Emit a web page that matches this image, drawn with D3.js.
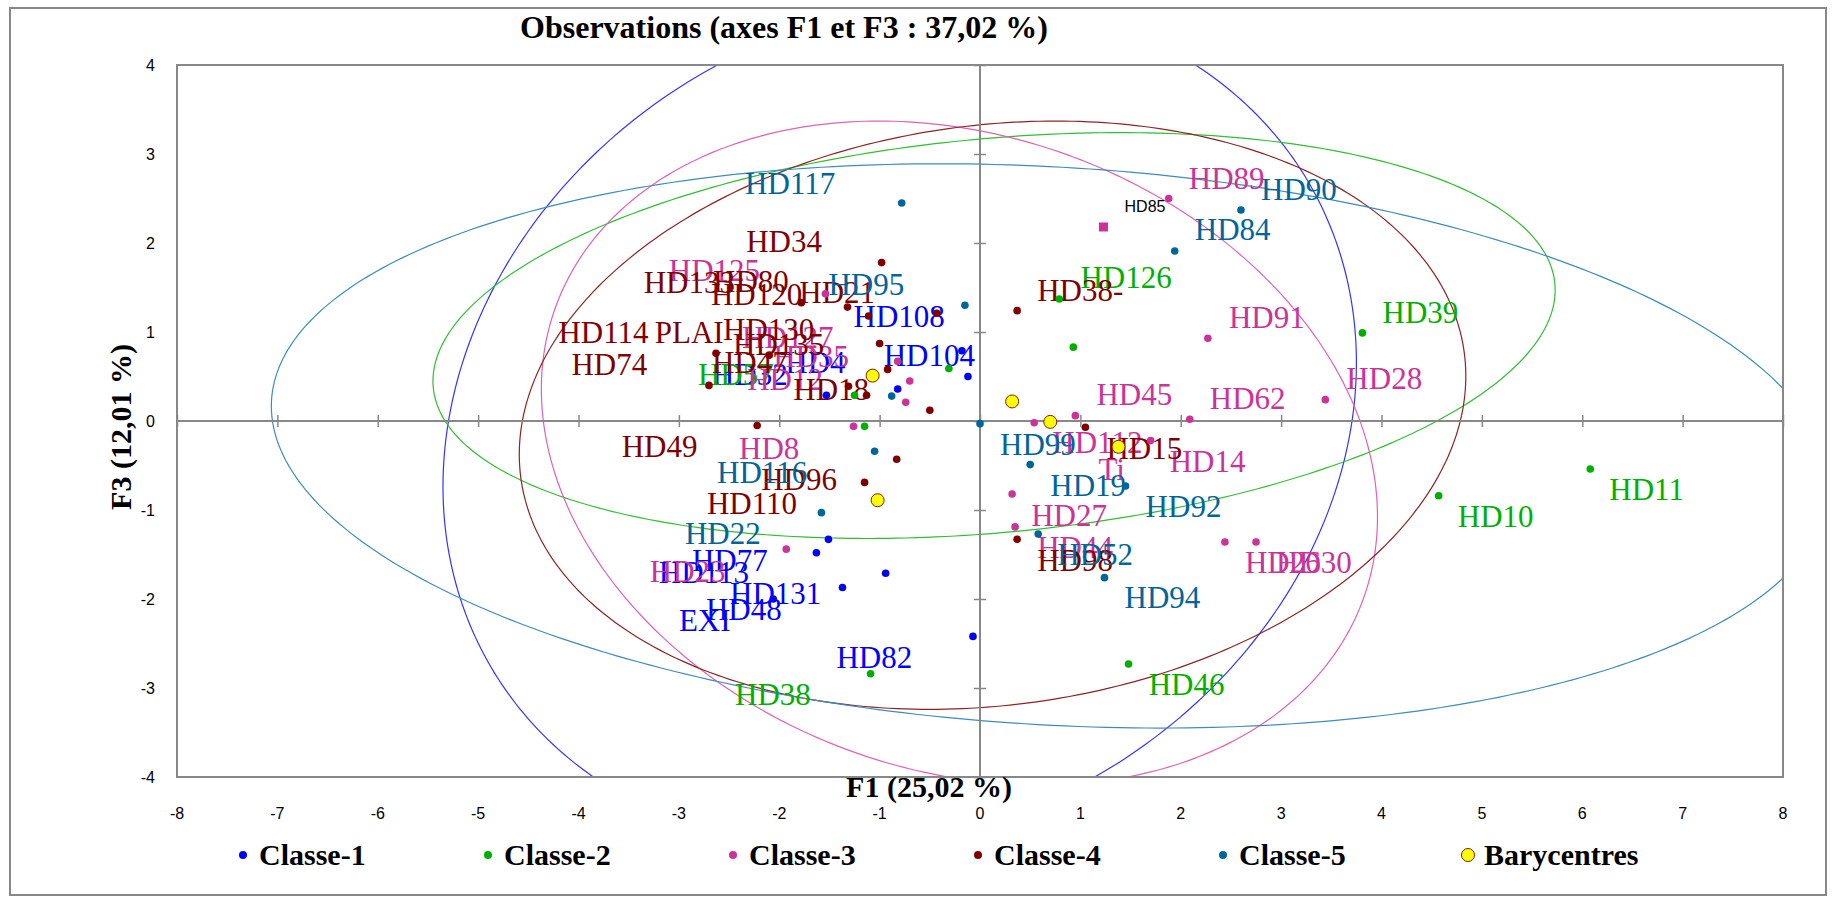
<!DOCTYPE html>
<html>
<head>
<meta charset="utf-8">
<script src="https://cdn.jsdelivr.net/npm/d3@7"></script>
<style>
    body { margin: 0; background: #ffffff; }
    svg { display: block; }
</style>
</head>
<body>
<div id="chart"></div>
<script>
// Observations plot, axes F1 / F3, with the class ellipses and barycentres

// ---- data ----
const classNames = ["Classe-1", "Classe-2", "Classe-3", "Classe-4", "Classe-5"];

const classe1 = [[-0.18, 0.79], [-0.12, 0.50], [-0.82, 0.36], [-1.53, 0.29], [-1.51, -1.33],
    [-1.63, -1.48], [-0.94, -1.71], [-1.37, -1.87], [-2.06, -2.00], [-0.07, -2.42]];
const classe2 = [[-0.31, 0.59], [-1.25, 0.29], [-1.15, -0.06], [0.79, 1.37], [0.93, 0.83],
    [3.81, 0.99], [1.48, -2.73], [4.57, -0.84], [6.08, -0.54], [-1.09, -2.84]];
const classe3 = [[-1.54, 1.43], [-0.82, 0.67], [-0.70, 0.45], [-0.74, 0.21], [-1.26, -0.06],
    [-1.93, -1.44], [1.88, 2.50], [2.27, 0.93], [3.44, 0.24], [0.54, -0.02], [0.95, 0.06],
    [2.09, 0.02], [1.70, -0.22], [0.32, -0.82], [0.35, -1.19], [2.44, -1.36], [2.75, -1.36]];
const classe4 = [[-0.98, 1.78], [-1.78, 1.33], [-1.32, 1.28], [-1.11, 1.18], [-0.43, 1.21],
    [-1.00, 0.87], [-2.63, 0.76], [-2.10, 0.74], [-0.92, 0.58], [-2.70, 0.40], [-1.31, 0.39],
    [-1.13, 0.29], [-0.50, 0.12], [-2.22, -0.05], [-0.83, -0.43], [-1.15, -0.69], [0.37, 1.24],
    [1.05, -0.07], [0.37, -1.33]];
const classe5 = [[-0.78, 2.45], [-0.15, 1.30], [-0.88, 0.28], [0.00, -0.03], [-1.05, -0.34],
    [-1.58, -1.03], [2.60, 2.37], [1.94, 1.91], [0.50, -0.49], [1.45, -0.73], [0.58, -1.27],
    [1.24, -1.76]];

// HD85 is drawn with a square marker
const hd85Point = [1.23, 2.18];

const barycentres = [[-1.02, -0.89], [1.38, -0.29], [0.70, -0.01], [-1.07, 0.51], [0.32, 0.22]];

// labels: [text, x, y] in axis units (left end of the baseline)
const labels1 = [["HD108", -1.26, 1.06], ["HD104", -0.96, 0.62], ["HD32", -2.67, 0.40],
    ["HD4", -1.94, 0.54], ["HD77", -2.87, -1.69], ["HD113", -3.20, -1.82], ["HD131", -2.49, -2.06],
    ["HD48", -2.73, -2.24], ["EXI", -3.00, -2.36], ["HD82", -1.43, -2.77]];
const labels2 = [["HD57", -2.81, 0.40], ["HD126", 1.00, 1.49], ["HD39", 4.01, 1.10],
    ["HD10", 4.76, -1.19], ["HD11", 6.27, -0.89], ["HD46", 1.68, -3.08], ["HD38", -2.44, -3.19]];
const labels3 = [["HD125", -3.10, 1.57], ["HD127", -2.37, 0.82], ["HD35", -2.06, 0.61],
    ["HD12", -2.32, 0.35], ["HD8", -2.40, -0.43], ["HD23", -3.29, -1.81], ["HD89", 2.08, 2.61],
    ["HD91", 2.48, 1.04], ["HD28", 3.65, 0.36], ["HD45", 1.16, 0.18], ["HD62", 2.29, 0.14],
    ["HD112", 0.72, -0.36], ["Ti", 1.18, -0.66], ["HD14", 1.89, -0.57], ["HD27", 0.51, -1.18],
    ["HD44", 0.57, -1.54], ["HD26", 2.64, -1.71], ["HD30", 2.95, -1.71]];
const labels4 = [["HD34", -2.33, 1.90], ["HD133", -3.35, 1.44], ["HD80", -2.66, 1.45],
    ["HD120", -2.68, 1.30], ["HD21", -1.80, 1.33], ["HD130", -2.56, 0.91], ["HD114", -4.20, 0.88],
    ["PLAI", -3.24, 0.88], ["HD135", -2.46, 0.74], ["HD74", -4.07, 0.52], ["HD47", -2.67, 0.54],
    ["HD18", -1.86, 0.24], ["HD49", -3.57, -0.41], ["HD96", -2.18, -0.78], ["HD110", -2.72, -1.04],
    ["HD38-", 0.57, 1.35], ["HD15", 1.26, -0.43], ["HD98", 0.57, -1.69]];
const labels5 = [["HD117", -2.34, 2.55], ["HD95", -1.51, 1.42], ["HD116", -2.62, -0.70],
    ["HD22", -2.94, -1.38], ["HD90", 2.80, 2.48], ["HD84", 2.14, 2.03], ["HD99", 0.20, -0.38],
    ["HD19", 0.70, -0.84], ["HD92", 1.65, -1.08], ["HD52", 0.77, -1.62], ["HD94", 1.44, -2.10]];
const hd85Label = ["HD85", 1.44, 2.35];

// ellipses: [centre x, centre y, half width, half height, horizontal shift per unit of height]
const ellipse1 = [-0.80, -0.04, 4.55, 4.76, 0.14];
const ellipse2 = [0.14, 0.96, 5.59, 2.28, 0.55];
const ellipse3 = [-0.205, -0.36, 4.165, 3.73, -0.215];
const ellipse4 = [0.125, 0.065, 4.715, 3.305, 0.19];
const ellipse5 = [0.70, -0.28, 7.76, 3.17, -0.345];

const xTicks = d3.range(-8, 9, 1);
const yTicks = d3.range(-4, 5, 1);

// ---- styles ----
const pointColors = ["#0000ff", "#00b000", "#cc3399", "#800000", "#006699"];
const ellipseColors = ["#3434ff", "#2fc02f", "#e062b6", "#8e2323", "#3d8cbd"];
const serif = "'Liberation Serif', 'Times New Roman', serif";
const sans = "'Liberation Sans', Arial, sans-serif";
const gray = "#888888";

const width = 1832, height = 897;
const plot = {left: 177, right: 1783, top: 65, bottom: 777};

let svg = d3.select("#chart")
    .append("svg")
    .attr("width", width)
    .attr("height", height);

// outer frame
svg.append("rect")
    .attr("x", 10).attr("y", 8)
    .attr("width", 1816).attr("height", 887)
    .attr("fill", "none")
    .attr("stroke", gray)
    .attr("stroke-width", 2);

let x = d3.scaleLinear().domain([-8, 8]).range([plot.left, plot.right]);
let y = d3.scaleLinear().domain([-4, 4]).range([plot.bottom, plot.top]);

svg.append("clipPath").attr("id", "plotclip")
    .append("rect")
    .attr("x", plot.left).attr("y", plot.top)
    .attr("width", plot.right - plot.left)
    .attr("height", plot.bottom - plot.top);

// title
svg.append("text")
    .attr("x", 784).attr("y", 38)
    .attr("text-anchor", "middle")
    .style("font-family", serif)
    .style("font-weight", "bold")
    .style("font-size", "32px")
    .text("Observations (axes F1 et F3 : 37,02 %)");

// ellipses
let ellipses = [ellipse1, ellipse2, ellipse3, ellipse4, ellipse5];
let ellipseLine = d3.line()
    .x(d => x(d[0]))
    .y(d => y(d[1]));

function ellipsePoints(e) {
    const [cx, cy, w, h, s] = e;
    const h0 = Math.sqrt(w * w - s * s * h * h);
    return d3.range(0, 361, 1).map(function (deg) {
        const t = deg * Math.PI / 180;
        return [cx + h0 * Math.cos(t) + s * h * Math.sin(t), cy + h * Math.sin(t)];
    });
}

let ellipseLayer = svg.append("g").attr("clip-path", "url(#plotclip)");
ellipses.forEach(function (e, i) {
    ellipseLayer.append("path")
        .attr("d", ellipseLine(ellipsePoints(e)))
        .attr("fill", "none")
        .attr("stroke", ellipseColors[i])
        .attr("stroke-width", 1.2);
});

// plot frame and the two zero axes
svg.append("rect")
    .attr("x", plot.left).attr("y", plot.top)
    .attr("width", plot.right - plot.left)
    .attr("height", plot.bottom - plot.top)
    .attr("fill", "none")
    .attr("stroke", gray)
    .attr("stroke-width", 2);

let xAxis = d3.axisBottom(x).tickValues(xTicks).tickSize(12).tickFormat("");
svg.append("g")
    .attr("transform", `translate(0, ${y(0) - 6})`)
    .call(xAxis)
    .call(g => g.select(".domain").remove())
    .call(g => g.selectAll("line").attr("stroke", gray).attr("stroke-width", 1.5));
svg.append("line")
    .attr("x1", plot.left).attr("x2", plot.right)
    .attr("y1", y(0)).attr("y2", y(0))
    .attr("stroke", gray).attr("stroke-width", 2);

let yAxis = d3.axisLeft(y).tickValues(yTicks).tickSize(12).tickFormat("");
svg.append("g")
    .attr("transform", `translate(${x(0) + 6}, 0)`)
    .call(yAxis)
    .call(g => g.select(".domain").remove())
    .call(g => g.selectAll("line").attr("stroke", gray).attr("stroke-width", 1.5));
svg.append("line")
    .attr("x1", x(0)).attr("x2", x(0))
    .attr("y1", plot.top).attr("y2", plot.bottom)
    .attr("stroke", gray).attr("stroke-width", 2);

// tick labels: y on the left of the frame, x below it
svg.append("g").selectAll("text")
    .data(yTicks)
    .enter()
    .append("text")
    .attr("x", 155)
    .attr("y", d => y(d))
    .attr("dy", "0.35em")
    .attr("text-anchor", "end")
    .style("font-family", sans)
    .style("font-size", "16px")
    .text(d => d);

svg.append("g").selectAll("text")
    .data(xTicks)
    .enter()
    .append("text")
    .attr("x", d => x(d))
    .attr("y", 813)
    .attr("dy", "0.35em")
    .attr("text-anchor", "middle")
    .style("font-family", sans)
    .style("font-size", "16px")
    .text(d => d);

// axis titles
svg.append("text")
    .attr("x", 929).attr("y", 797)
    .attr("text-anchor", "middle")
    .style("font-family", serif)
    .style("font-weight", "bold")
    .style("font-size", "30px")
    .text("F1 (25,02 %)");

svg.append("text")
    .attr("transform", "translate(131, 427) rotate(-90)")
    .attr("text-anchor", "middle")
    .style("font-family", serif)
    .style("font-weight", "bold")
    .style("font-size", "30px")
    .text("F3 (12,01 %)");

// point labels
let labelLayer = svg.append("g");
[labels1, labels2, labels3, labels4, labels5].forEach(function (labs, i) {
    labelLayer.selectAll(null)
        .data(labs)
        .enter()
        .append("text")
        .attr("x", d => x(d[1]))
        .attr("y", d => y(d[2]))
        .attr("fill", pointColors[i])
        .style("font-family", serif)
        .style("font-size", "31px")
        .text(d => d[0]);
});
labelLayer.append("text")
    .attr("x", x(hd85Label[1]))
    .attr("y", y(hd85Label[2]))
    .style("font-family", sans)
    .style("font-size", "16px")
    .text(hd85Label[0]);

// points
let pointLayer = svg.append("g");
[classe1, classe2, classe3, classe4, classe5].forEach(function (pts, i) {
    pointLayer.selectAll(null)
        .data(pts)
        .enter()
        .append("circle")
        .attr("cx", d => x(d[0]))
        .attr("cy", d => y(d[1]))
        .attr("r", 3.8)
        .attr("fill", pointColors[i]);
});
pointLayer.append("rect")
    .attr("x", x(hd85Point[0]) - 4.5)
    .attr("y", y(hd85Point[1]) - 4.5)
    .attr("width", 9).attr("height", 9)
    .attr("fill", pointColors[2]);

pointLayer.selectAll(null)
    .data(barycentres)
    .enter()
    .append("circle")
    .attr("cx", d => x(d[0]))
    .attr("cy", d => y(d[1]))
    .attr("r", 6.5)
    .attr("fill", "#ffff00")
    .attr("stroke", "#8b1a00")
    .attr("stroke-width", 1);

// legend
let legendItems = classNames.concat(["Barycentres"]);
let legend = svg.append("g").selectAll("g")
    .data(legendItems)
    .enter()
    .append("g")
    .attr("transform", (d, i) => `translate(${243 + i * 245}, 855)`);

legend.append("circle")
    .attr("r", (d, i) => i < 5 ? 4 : 6.5)
    .attr("fill", (d, i) => i < 5 ? pointColors[i] : "#ffff00")
    .attr("stroke", (d, i) => i < 5 ? "none" : "#8b1a00");

legend.append("text")
    .attr("x", 16)
    .attr("y", 10)
    .style("font-family", serif)
    .style("font-weight", "bold")
    .style("font-size", "30px")
    .text(d => d);
</script>
</body>
</html>
